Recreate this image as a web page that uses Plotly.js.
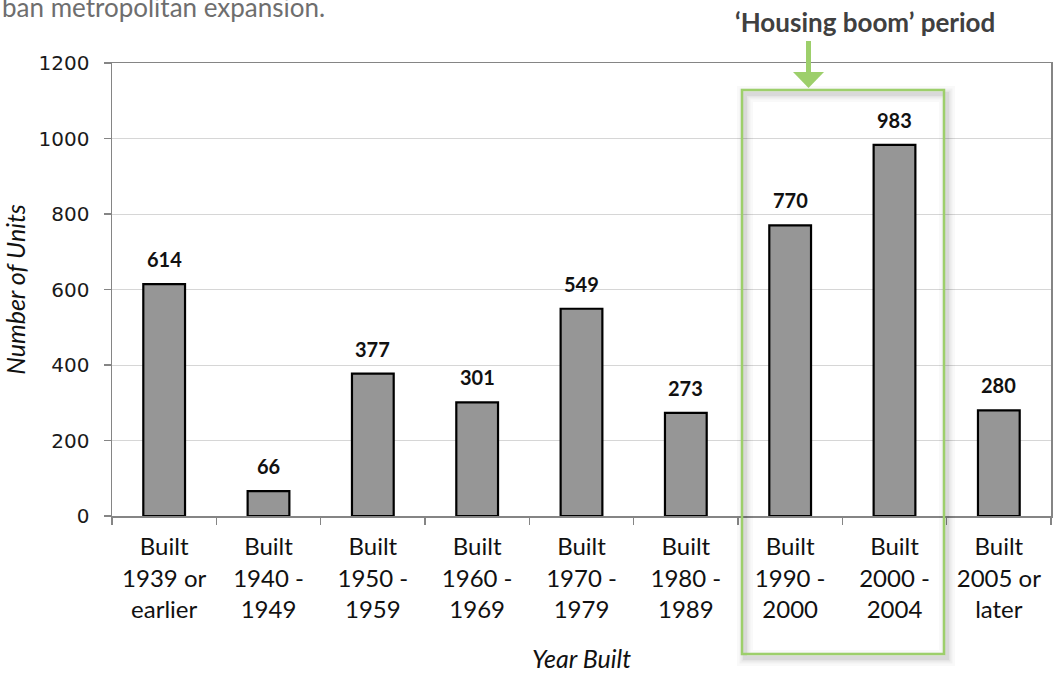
<!DOCTYPE html>
<html>
<head>
<meta charset="utf-8">
<script src="https://cdn.plot.ly/plotly-3.0.1.min.js"></script>
<style>html,body{margin:0;padding:0;background:#fff;}#chart{width:1054px;height:673px;}</style>
</head>
<body>
<div id="chart"></div>
<script>
// ---- data ----
var categories = [
  "Built<br>1939 or<br>earlier",
  "Built<br>1940 -<br>1949",
  "Built<br>1950 -<br>1959",
  "Built<br>1960 -<br>1969",
  "Built<br>1970 -<br>1979",
  "Built<br>1980 -<br>1989",
  "Built<br>1990 -<br>2000",
  "Built<br>2000 -<br>2004",
  "Built<br>2005 or<br>later"
];
var units = [614, 66, 377, 301, 549, 273, 770, 983, 280];
var yTicks = [0, 200, 400, 600, 800, 1000, 1200];
var boomLabel = "\u2018Housing boom\u2019 period";
var introText = "ban metropolitan expansion.";

// ---- layout helpers (pixel -> paper) ----
var L = 112, R = 1051, T = 63, B = 516;
function px(x){ return (x - L) / (R - L); }
function py(y){ return (B - y) / (B - T); }

var green = "#9dcf6b";
var shapes = [];
// soft shadow around highlight box
[[16,0.025],[11,0.035],[7,0.045],[4,0.05]].forEach(function(s){
  shapes.push({type:"rect", xref:"paper", yref:"paper",
    x0:px(745), x1:px(947), y0:py(658), y1:py(94),
    line:{color:"rgba(0,0,0,"+s[1]+")", width:s[0]}, fillcolor:"rgba(0,0,0,0)", layer:"above"});
});
shapes.push({type:"rect", xref:"paper", yref:"paper",
  x0:px(742), x1:px(944), y0:py(654), y1:py(90),
  line:{color:green, width:2.5}, fillcolor:"rgba(0,0,0,0)", layer:"above"});
// arrow shaft and head
shapes.push({type:"line", xref:"paper", yref:"paper",
  x0:px(808.5), x1:px(808.5), y0:py(41), y1:py(74), line:{color:green, width:5}});
shapes.push({type:"path", xref:"paper", yref:"paper",
  path:"M"+px(793)+","+py(72)+" L"+px(824)+","+py(72)+" L"+px(808.5)+","+py(88)+" Z",
  fillcolor:green, line:{color:green, width:0}});

var annotations = units.map(function(v, i){
  return {x:categories[i], y:v, xref:"x", yref:"y", text:String(v), showarrow:false,
    yanchor:"middle", yshift:25, font:{family:"Lato, sans-serif", size:20, color:"#111", weight:700}};
});
annotations.push({xref:"paper", yref:"paper", x:px(865), y:py(22), text:boomLabel, showarrow:false,
  xanchor:"center", yanchor:"middle", font:{family:"Lato, sans-serif", size:26, color:"#404040", weight:700}});
annotations.push({xref:"paper", yref:"paper", x:px(0), y:py(7), text:introText, showarrow:false,
  xanchor:"left", yanchor:"middle", font:{family:"Lato, sans-serif", size:26, color:"#6e6e6e"}});

var trace = {
  type:"bar", x:categories, y:units,
  marker:{color:"#969696", line:{color:"#000", width:2.2}},
  hoverinfo:"x+y"
};

var layout = {
  width:1054, height:673,
  margin:{l:L, r:1054-R, t:T, b:673-B},
  paper_bgcolor:"#fff", plot_bgcolor:"#fff",
  bargap:0.6,
  showlegend:false,
  xaxis:{
    type:"category",
    showline:true, linecolor:"#858585", linewidth:1.5, mirror:true,
    ticks:"outside", ticklen:7, tickcolor:"#858585", tickwidth:1.5, tickson:"boundaries",
    showgrid:false, zeroline:false,
    tickfont:{family:"Lato, sans-serif", size:24, color:"#111"},
    ticklabelstandoff:9,
    title:{text:"<i>Year Built</i>", font:{family:"Lato, sans-serif", size:25, color:"#111"}, standoff:29}
  },
  yaxis:{
    range:[0,1200], tickvals:yTicks, ticktext:yTicks.map(String),
    showline:true, linecolor:"#858585", linewidth:1.5, mirror:true,
    ticks:"outside", ticklen:7, tickcolor:"#858585", tickwidth:1.5,
    showgrid:true, gridcolor:"#d6d6d6", gridwidth:1, zeroline:false,
    tickfont:{family:"DejaVu Sans, sans-serif", size:20, color:"#1a1a1a"},
    ticklabelstandoff:10,
    title:{text:"<i>Number of Units</i>", font:{family:"Lato, sans-serif", size:25, color:"#111"}, standoff:7}
  },
  shapes:shapes,
  annotations:annotations
};

Plotly.newPlot("chart", [trace], layout, {displayModeBar:false, staticPlot:true});
</script>
</body>
</html>
